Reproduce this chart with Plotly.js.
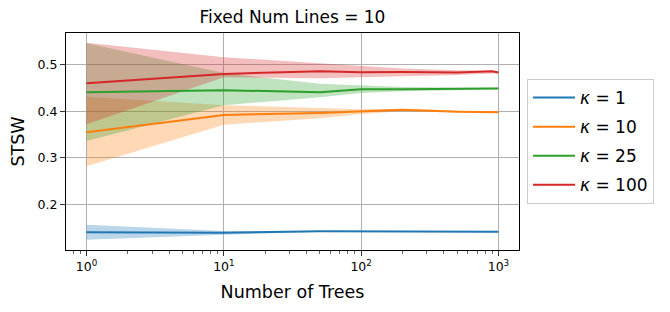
<!DOCTYPE html>
<html>
<head>
<meta charset="utf-8">
<script src="https://cdn.plot.ly/plotly-3.0.1.min.js"></script>
<style>html,body{margin:0;padding:0;background:#fff;}#chart{width:670px;height:312px;}</style>
</head>
<body>
<div id="chart"></div>
<script>
// Number of trees (x)
const numTrees = [1, 10, 50, 100, 200, 500, 900, 1000];

// kappa = 1
const k1Mean  = [0.140, 0.139, 0.142, 0.142, 0.142, 0.141, 0.141, 0.141];
const k1Lower = [0.124, 0.135, 0.141, 0.1412, 0.1412, 0.1402, 0.1402, 0.1402];
const k1Upper = [0.156, 0.143, 0.143, 0.1428, 0.1428, 0.1418, 0.1418, 0.1418];

// kappa = 10
const k10Mean  = [0.355, 0.392, 0.396, 0.399, 0.403, 0.399, 0.398, 0.398];
const k10Lower = [0.282, 0.371, 0.385, 0.394, 0.400, 0.397, 0.396, 0.396];
const k10Upper = [0.431, 0.413, 0.407, 0.404, 0.405, 0.401, 0.400, 0.400];

// kappa = 25
const k25Mean  = [0.441, 0.445, 0.441, 0.447, 0.447, 0.448, 0.449, 0.449];
const k25Lower = [0.336, 0.413, 0.430, 0.439, 0.443, 0.446, 0.447, 0.447];
const k25Upper = [0.546, 0.482, 0.459, 0.455, 0.452, 0.451, 0.451, 0.451];

// kappa = 100
const k100Mean  = [0.460, 0.480, 0.486, 0.4835, 0.484, 0.483, 0.486, 0.483];
const k100Lower = [0.372, 0.473, 0.471, 0.473, 0.476, 0.478, 0.481, 0.481];
const k100Upper = [0.547, 0.516, 0.503, 0.498, 0.492, 0.488, 0.487, 0.485];

const seriesNames = ['<i>κ</i> = 1', '<i>κ</i> = 10', '<i>κ</i> = 25', '<i>κ</i> = 100'];
const xTickVals = [1, 10, 100, 1000];
const xTickText = ['10<sup>0</sup>', '10<sup>1</sup>', '10<sup>2</sup>', '10<sup>3</sup>'];
const yTickVals = [0.2, 0.3, 0.4, 0.5];

const colors = ['#1f77b4', '#ff7f0e', '#2ca02c', '#d62728'];
const fills = ['rgba(31,119,180,0.3)', 'rgba(255,127,14,0.3)', 'rgba(44,160,44,0.3)', 'rgba(214,39,40,0.3)'];
const means = [k1Mean, k10Mean, k25Mean, k100Mean];
const lowers = [k1Lower, k10Lower, k25Lower, k100Lower];
const uppers = [k1Upper, k10Upper, k25Upper, k100Upper];

const traces = [];
for (let i = 0; i < 4; i++) {
  traces.push({x: numTrees, y: lowers[i], type: 'scatter', mode: 'lines',
    line: {width: 0, color: fills[i]}, showlegend: false, hoverinfo: 'skip'});
  traces.push({x: numTrees, y: uppers[i], type: 'scatter', mode: 'lines',
    line: {width: 0, color: fills[i]}, fill: 'tonexty', fillcolor: fills[i],
    showlegend: false, hoverinfo: 'skip'});
}
for (let i = 0; i < 4; i++) {
  traces.push({x: numTrees, y: means[i], type: 'scatter', mode: 'lines',
    name: seriesNames[i], legendgroup: 'g' + i,
    line: {width: 2, color: colors[i]}});
}

const minorVals = [];
[0.1, 1, 10, 100].forEach(d => { for (let m = 2; m <= 9; m++) minorVals.push(m * d); });

const font = 'DejaVu Sans, sans-serif';
const layout = {
  width: 670, height: 312,
  margin: {l: 66, r: 151, t: 33, b: 62},
  paper_bgcolor: '#fff', plot_bgcolor: '#fff',
  font: {family: font, color: '#000'},
  title: {text: 'Fixed Num Lines = 10', font: {family: font, size: 17, color: '#000'},
    x: 0.5, xref: 'paper', xanchor: 'center', y: 1 - 17 / 312, yref: 'container', yanchor: 'middle'},
  xaxis: {
    type: 'log', range: [-0.15, 3.15],
    tickmode: 'array', tickvals: xTickVals, ticktext: xTickText,
    tickfont: {family: font, size: 12.5, color: '#000'},
    ticks: 'outside', ticklen: 5, tickwidth: 0.8, tickcolor: '#000',
    showgrid: true, gridcolor: '#b0b0b0', gridwidth: 1,
    showline: true, linecolor: '#000', linewidth: 1, mirror: true,
    zeroline: false,
    minor: {tickmode: 'array', tickvals: minorVals, ticks: 'outside', ticklen: 3, tickwidth: 0.6, tickcolor: '#000', showgrid: false},
    title: {text: 'Number of Trees', font: {family: font, size: 17.5, color: '#000'}, standoff: 12},
    automargin: false
  },
  yaxis: {
    range: [0.102, 0.568],
    tickmode: 'array', tickvals: yTickVals,
    tickformat: '.1f',
    tickfont: {family: font, size: 12.5, color: '#000'},
    ticks: 'outside', ticklen: 5, tickwidth: 0.8, tickcolor: '#000',
    showgrid: true, gridcolor: '#b0b0b0', gridwidth: 1,
    showline: true, linecolor: '#000', linewidth: 1, mirror: true,
    zeroline: false,
    title: {text: 'STSW', font: {family: font, size: 17.5, color: '#000'}, standoff: 8},
    automargin: false
  },
  legend: {
    x: 1.0177, xanchor: 'left', y: 0.5, yanchor: 'middle',
    bgcolor: 'rgba(255,255,255,0.8)', bordercolor: '#cccccc', borderwidth: 1,
    font: {family: font, size: 17, color: '#000'},
    itemwidth: 42,
    traceorder: 'grouped', tracegroupgap: 4
  },
  showlegend: true
};

Plotly.newPlot('chart', traces, layout, {staticPlot: true, displayModeBar: false});
</script>
</body>
</html>
